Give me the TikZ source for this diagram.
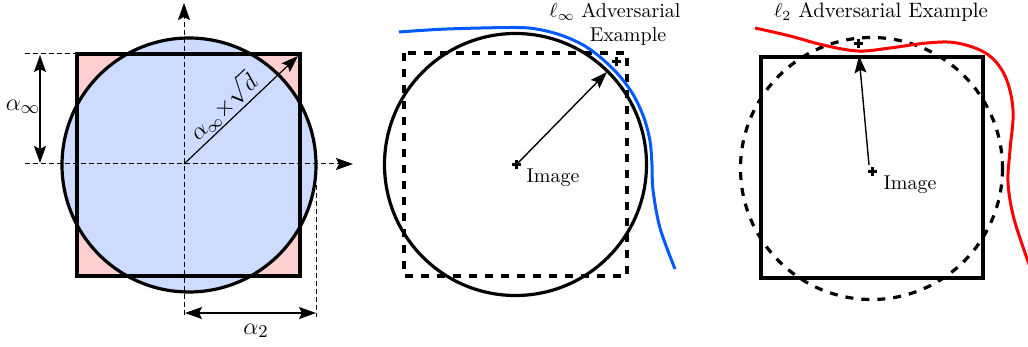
\documentclass[tikz,border=0pt]{standalone}
\usetikzlibrary{arrows.meta,calc}
\definecolor{pinkfill}{RGB}{255,206,206}
\definecolor{bluefill}{RGB}{204,219,255}
\definecolor{advblue}{RGB}{0,90,255}
\definecolor{advred}{RGB}{255,0,0}
\begin{document}
\begin{tikzpicture}[x=0.5pt,y=-0.5pt,
  thickline/.style={line width=1.6pt},
  thickdash/.style={line width=1.6pt, dash pattern=on 4pt off 4pt},
  axis/.style={line width=0.5pt, dash pattern=on 2.5pt off 1.5pt},
  tipend/.style={-{Stealth[length=8.5pt,width=6pt,inset=1.5pt]}},
  tipboth/.style={{Stealth[length=8.5pt,width=6pt,inset=1.5pt]}-{Stealth[length=8.5pt,width=6pt,inset=1.5pt]}},
  thinarrow/.style={line width=0.7pt},
  advcurve/.style={line width=1.5pt},
  cross/.style={line width=1.5pt},
  lbl/.style={inner sep=1pt, font=\normalsize},
  mathlbl/.style={inner sep=1pt, font=\fontsize{13}{15}\selectfont}]
\useasboundingbox (0,0) rectangle (1028,347);

% ---------- left panel ----------
\coordinate (O1) at (184,164);
\coordinate (C1) at (189,165);
\coordinate (SqTL) at (77,54);
\coordinate (SqBR) at (300,276);
\coordinate (Corner) at (298,56);
\fill[pinkfill] (SqTL) rectangle (SqBR);
\fill[bluefill] (C1) circle (127);
\draw[thickline] (SqTL) rectangle (SqBR);
\draw[thickline] (C1) circle (127);
% axes
\coordinate (VaxB) at (184,315);
\coordinate (VaxT) at (184,3);
\coordinate (HaxL) at (25,164);
\coordinate (HaxR) at (353,164);
\draw[axis, tipend] (VaxB) -- (VaxT);
\draw[axis, tipend] (HaxL) -- (HaxR);
\coordinate (TopL) at (25,54);
\coordinate (TopR) at (298,54);
\draw[axis] (TopL) -- (TopR);
% alpha_inf dimension
\coordinate (AiT) at (40,55);
\coordinate (AiB) at (40,163);
\draw[thinarrow, tipboth] (AiT) -- (AiB);
\node[mathlbl] (ainf) at (23,107) {$\alpha_\infty$};
% diagonal
\draw[line width=0.6pt, tipend] (O1) -- (Corner)
  node[pos=0.43, sloped, above, inner sep=1pt, font=\fontsize{11.5}{14}\selectfont] (diaglbl) {$\alpha_\infty{\times}\sqrt{d}$};
% alpha_2 dimension
\coordinate (RdT) at (316,185);
\coordinate (RdB) at (316,317);
\draw[axis] (RdT) -- (RdB);
\coordinate (A2L) at (185,313);
\coordinate (A2R) at (316,313);
\draw[thinarrow, tipboth] (A2L) -- (A2R);
\node[mathlbl] (atwo) at (256,331) {$\alpha_2$};

% ---------- middle panel ----------
\coordinate (O2) at (516,165);
\coordinate (X2) at (616,62);
\coordinate (T2) at (607,72);
\draw[thickline] (515.5,164.5) circle (131);
\draw[thickdash] (404,53) rectangle (627,276);
\draw[advcurve, advblue] plot[smooth, tension=0.55] coordinates
  {(399,32) (447,29) (515,27.5) (539,29.5) (562,35.5) (584,45.5) (603,59.5) (620,76.5) (634,96) (644,118) (650,141) (652,165) (653,190) (660,228) (675,269)};
\draw[cross] ($(O2)+(-4.5,0)$) -- ($(O2)+(4.5,0)$) ($(O2)+(0,-4.5)$) -- ($(O2)+(0,4.5)$);
\draw[cross] ($(X2)+(-4.5,0)$) -- ($(X2)+(4.5,0)$) ($(X2)+(0,-4.5)$) -- ($(X2)+(0,4.5)$);
\draw[thinarrow, tipend] (O2) -- (T2);
\node[lbl] (img2) at (553,178) {Image};
\node[lbl, align=center] (linf) at (615,24) {$\ell_\infty$ Adversarial\\\hspace*{13pt}Example};

% ---------- right panel ----------
\coordinate (O3) at (872,172);
\coordinate (S3) at (869,165);
\coordinate (X3) at (858,44);
\coordinate (T3) at (859,56);
\draw[thickline] (761,57) rectangle (983,278);
\draw[thickdash] (871.5,168.5) circle (131);
\draw[advcurve, advred] plot[smooth, tension=0.6] coordinates
  {(755,28) (790,36) (823,45) (858,51) (890,48) (927,43) (957,43) (987,54) (1005,76) (1013,110) (1010,150) (1008,182) (1013,215) (1024,250) (1032,272)};
\draw[cross] ($(O3)+(-4.5,0)$) -- ($(O3)+(4.5,0)$) ($(O3)+(0,-4.5)$) -- ($(O3)+(0,4.5)$);
\draw[cross] ($(X3)+(-4.5,0)$) -- ($(X3)+(4.5,0)$) ($(X3)+(0,-4.5)$) -- ($(X3)+(0,4.5)$);
\draw[thinarrow, tipend] (S3) -- (T3);
\node[lbl] (img3) at (910,185) {Image};
\node[lbl, font=\fontsize{10.4}{12}\selectfont] (ltwo) at (881,12) {$\ell_2$ Adversarial Example};
\end{tikzpicture}
\end{document}
